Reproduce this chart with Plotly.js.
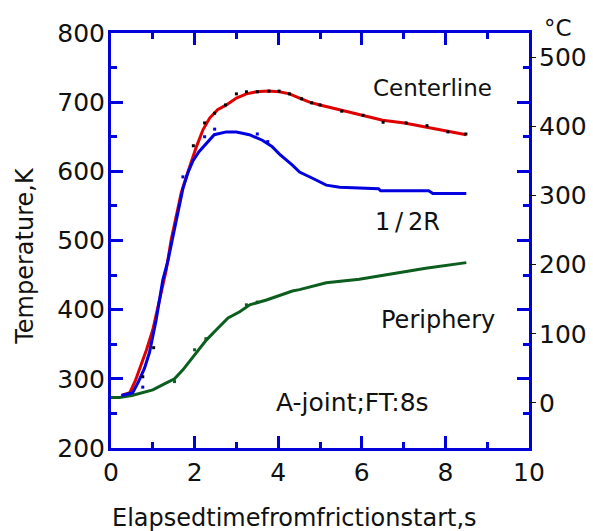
<!DOCTYPE html>
<html><head><meta charset="utf-8">
<script src="https://cdn.plot.ly/plotly-3.0.1.min.js"></script>
<style>body{margin:0;background:#fff}</style>
</head><body>
<div id="chart" style="width:593px;height:531px"></div>
<script>
// Centerline (red)
var timeCenter = [0.25,0.45,0.58,0.70,0.85,1.00,1.11,1.20,1.32,1.44,1.56,1.68,1.80,1.92,2.04,2.20,2.36,2.55,2.76,3.00,3.24,3.48,3.75,4.03,4.27,4.51,4.75,5.00,5.47,6.02,6.50,7.02,7.54,8.02,8.50];
var tempCenter = [276,280,297,316,342,371,400,428,457,501,534,569,592,614,635,660,677,689,696,706,712,715,716,715,712,706,700,696,689,681,674,670,664,658,653];
// 1/2R (blue)
var timeHalf = [0.25,0.52,0.65,0.80,0.92,1.08,1.24,1.36,1.48,1.60,1.72,1.84,1.96,2.10,2.24,2.47,2.76,3.00,3.31,3.62,3.85,4.03,4.34,4.51,4.82,5.15,5.47,6.40,6.45,7.60,7.70,8.50];
var tempHalf = [276,280,295,315,338,385,443,470,505,540,575,598,615,628,638,653,657,657,653,645,636,625,609,599,590,580,577,575,572,572,568,568];
// Periphery (green)
var timePeri = [0,0.20,0.50,0.76,1.00,1.29,1.52,1.72,1.96,2.28,2.52,2.80,3.08,3.32,3.72,4.03,4.34,4.51,5.15,5.94,6.73,7.53,8.50];
var tempPeri = [273,273,276,280,284,293,300,313,332,356,371,388,397,407,414,420,427,429,439,444,452,460,468];
// measured points
var timeCenterPts = [0.76,1.02,1.97,2.24,2.48,2.74,3.00,3.24,3.50,3.78,4.02,4.27,4.56,4.80,5.00,5.52,6.03,6.51,7.06,7.56,8.06,8.49];
var tempCenterPts = [303,345,637,670,684,696,712,715,715,716,716,712,705,699,696,687,681,671,670,666,657,654];
var timeHalfPts = [0.76,1.72,2.24,2.48,3.50,3.75];
var tempHalfPts = [288,592,650,661,654,643];
var timePeriPts = [1.52,2.00,2.27,3.24,3.50];
var tempPeriPts = [296,342,358,407,411];
// axes
var kTicks = [200,300,400,500,600,700,800];
var cTicks = [0,100,200,300,400,500];
var xTicks = [0,2,4,6,8,10];

var FONT = 'DejaVu Sans, sans-serif';
var AX = '#0000dd';
var traces = [
  {x: timePeri, y: tempPeri, mode:'lines', line:{color:'#0b5e1e', width:3}},
  {x: timePeriPts, y: tempPeriPts, mode:'markers', marker:{color:'#0b5e1e', size:3, symbol:'square'}},
  {x: timeCenter, y: tempCenter, mode:'lines', line:{color:'#e00000', width:3}},
  {x: timeHalf, y: tempHalf, mode:'lines', line:{color:'#0000e0', width:3}},
  {x: timeCenterPts, y: tempCenterPts, mode:'markers', marker:{color:'#000', size:3, symbol:'square'}},
  {x: timeHalfPts, y: tempHalfPts, mode:'markers', marker:{color:'#0000e0', size:3, symbol:'square'}},
  {x: [null], y: [null], yaxis:'y2', mode:'lines'}
];
var layout = {
  width:593, height:531, showlegend:false,
  paper_bgcolor:'#fff', plot_bgcolor:'#fff',
  margin:{l:111, r:64, t:33, b:83},
  font:{family:FONT, color:'#111', size:25},
  xaxis:{range:[0,10], tickvals:xTicks, ticktext:xTicks.map(String), showgrid:false, zeroline:false,
    showline:true, linecolor:AX, linewidth:3, mirror:'ticks', ticks:'inside', ticklen:12, tickwidth:3, tickcolor:AX,
    minor:{dtick:1, ticks:'inside', ticklen:6, tickwidth:3, tickcolor:AX},
    tickfont:{size:25, family:FONT}},
  yaxis:{range:[200,800], tickvals:kTicks, ticktext:kTicks.map(String), showgrid:false, zeroline:false,
    showline:true, linecolor:AX, linewidth:3, mirror:'ticks', ticks:'inside', ticklen:12, tickwidth:3, tickcolor:AX,
    minor:{dtick:50, ticks:'inside', ticklen:6, tickwidth:3, tickcolor:AX},
    tickfont:{size:25, family:FONT}, ticklabelstandoff:-2},
  yaxis2:{overlaying:'y', side:'right', range:[-65.1,534.9], tickvals:cTicks, ticktext:cTicks.map(String),
    showgrid:false, zeroline:false, showline:false, ticks:'outside', ticklen:6, tickwidth:1, tickcolor:'#111',
    tickfont:{size:25, family:FONT}, ticklabelstandoff:-2},
  annotations:[
    {xref:'paper', yref:'paper', x:0.44, y:-0.169, text:'Elapsedtimefromfrictionstart,s', showarrow:false, font:{size:24, family:FONT}, xanchor:'center', yanchor:'middle'},
    {xref:'paper', yref:'paper', x:-0.206, y:0.463, text:'Temperature,K', textangle:-90, showarrow:false, font:{size:24, family:FONT}, xanchor:'center', yanchor:'middle'},
    {xref:'paper', yref:'paper', x:1.07, y:1.013, text:'°C', showarrow:false, font:{size:23, family:FONT}, xanchor:'center', yanchor:'middle'},
    {xref:'x', yref:'y', x:7.7, y:720.5, text:'Centerline', showarrow:false, font:{size:23, family:FONT}, xanchor:'center', yanchor:'middle'},
    {xref:'x', yref:'y', x:7.1, y:526.8, text:'1\u2009/\u20092R', showarrow:false, font:{size:24, family:FONT}, xanchor:'center', yanchor:'middle'},
    {xref:'x', yref:'y', x:7.82, y:385.1, text:'Periphery', showarrow:false, font:{size:24, family:FONT}, xanchor:'center', yanchor:'middle'},
    {xref:'x', yref:'y', x:5.77, y:265.1, text:'A-joint;FT:8s', showarrow:false, font:{size:25, family:FONT}, xanchor:'center', yanchor:'middle'}
  ]
};
Plotly.newPlot('chart', traces, layout, {staticPlot:true});
</script>
</body></html>
